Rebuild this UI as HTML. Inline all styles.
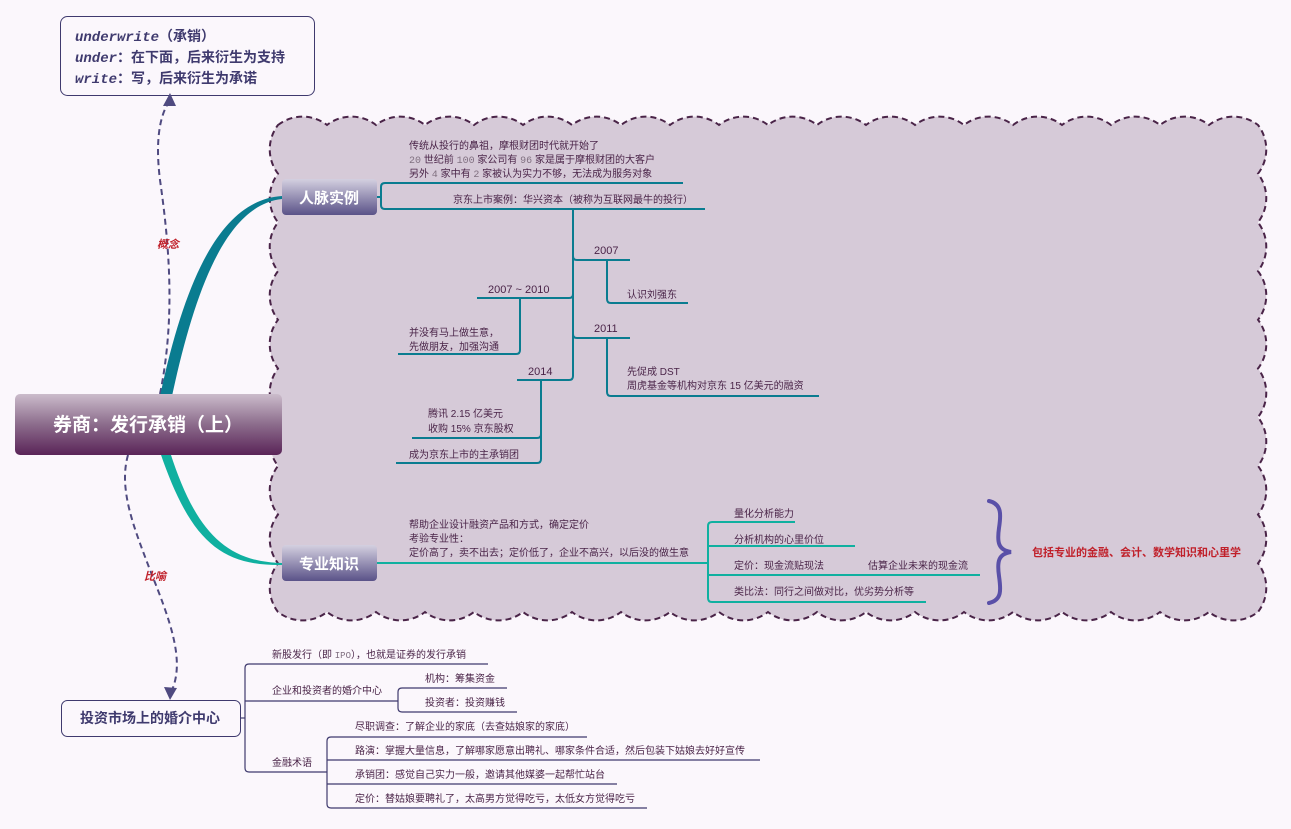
<!DOCTYPE html>
<html><head><meta charset="utf-8"><style>
html,body{margin:0;padding:0;background:#fbf7fc;}
svg text{font-family:"Liberation Sans","Noto Sans CJK SC",sans-serif;}
</style></head><body>
<svg width="1291" height="824" viewBox="0 0 1291 824" xmlns="http://www.w3.org/2000/svg">
<defs>
<linearGradient id="gr" x1="0" y1="0" x2="0" y2="1"><stop offset="0" stop-color="#cbbccb"/><stop offset="0.5" stop-color="#8c6c8c"/><stop offset="1" stop-color="#5a2458"/></linearGradient>
<linearGradient id="gs" x1="0" y1="0" x2="0" y2="1"><stop offset="0" stop-color="#d4d0e0"/><stop offset="1" stop-color="#5a5288"/></linearGradient>
</defs>
<rect width="1291" height="824" fill="#fbf7fc"/>
<!-- cloud -->
<path d="M278 125
a40 40 0 0 1 49 0 a40 40 0 0 1 49 0 a40 40 0 0 1 49 0 a40 40 0 0 1 49 0 a40 40 0 0 1 49 0 a40 40 0 0 1 49 0 a40 40 0 0 1 49 0 a40 40 0 0 1 49 0 a40 40 0 0 1 49 0 a40 40 0 0 1 49 0 a40 40 0 0 1 49 0 a40 40 0 0 1 49 0 a40 40 0 0 1 49 0 a40 40 0 0 1 49 0 a40 40 0 0 1 49 0 a40 40 0 0 1 49 0 a40 40 0 0 1 49 0 a40 40 0 0 1 49 0 a40 40 0 0 1 49 0 a40 40 0 0 1 49 0
a40 40 0 0 1 0 48.7 a40 40 0 0 1 0 48.7 a40 40 0 0 1 0 48.7 a40 40 0 0 1 0 48.7 a40 40 0 0 1 0 48.7 a40 40 0 0 1 0 48.7 a40 40 0 0 1 0 48.7 a40 40 0 0 1 0 48.7 a40 40 0 0 1 0 48.7 a40 40 0 0 1 0 48.7
a40 40 0 0 1 -49 0 a40 40 0 0 1 -49 0 a40 40 0 0 1 -49 0 a40 40 0 0 1 -49 0 a40 40 0 0 1 -49 0 a40 40 0 0 1 -49 0 a40 40 0 0 1 -49 0 a40 40 0 0 1 -49 0 a40 40 0 0 1 -49 0 a40 40 0 0 1 -49 0 a40 40 0 0 1 -49 0 a40 40 0 0 1 -49 0 a40 40 0 0 1 -49 0 a40 40 0 0 1 -49 0 a40 40 0 0 1 -49 0 a40 40 0 0 1 -49 0 a40 40 0 0 1 -49 0 a40 40 0 0 1 -49 0 a40 40 0 0 1 -49 0 a40 40 0 0 1 -49 0
a40 40 0 0 1 0 -48.7 a40 40 0 0 1 0 -48.7 a40 40 0 0 1 0 -48.7 a40 40 0 0 1 0 -48.7 a40 40 0 0 1 0 -48.7 a40 40 0 0 1 0 -48.7 a40 40 0 0 1 0 -48.7 a40 40 0 0 1 0 -48.7 a40 40 0 0 1 0 -48.7 a40 40 0 0 1 0 -48.7 Z"
fill="#d6cad8" stroke="#4a2448" stroke-width="2" stroke-dasharray="6,4"/>

<!-- top-left note -->
<rect x="60.5" y="16.5" width="254" height="79" rx="7" fill="#fbf7fc" stroke="#3f3a6e" stroke-width="1"/>
<g fill="#3f3a6e" font-size="14" font-weight="bold">
<text x="75" y="41"><tspan font-family="Liberation Mono" font-style="italic">underwrite</tspan>（承销）</text>
<text x="75" y="62"><tspan font-family="Liberation Mono" font-style="italic">under</tspan>：在下面，后来衍生为支持</text>
<text x="75" y="83"><tspan font-family="Liberation Mono" font-style="italic">write</tspan>：写，后来衍生为承诺</text>
</g>

<!-- dashed relationships -->
<path d="M160 394 C175 320 170 250 160 180 C155 140 160 115 169 102" fill="none" stroke="#4f4a80" stroke-width="2" stroke-dasharray="6,4"/>
<polygon points="170,93 163,106 176,106" fill="#4f4a80"/>
<text x="157" y="248" font-size="11" font-style="italic" font-weight="bold" fill="#c0202a">概念</text>
<path d="M128 455 C118 490 135 530 150 570 C170 620 185 660 172 690" fill="none" stroke="#4f4a80" stroke-width="2" stroke-dasharray="6,4"/>
<polygon points="170,700 164,687 177,688" fill="#4f4a80"/>
<text x="144" y="580" font-size="11" font-style="italic" font-weight="bold" fill="#c0202a">比喻</text>

<!-- main branches -->
<path d="M160 396 C185 280 220 200 282 196 L282 199 C226 205 195 290 172 396 Z" fill="#0a7c90"/>
<path d="M170 452 C195 530 225 562 282 563 L282 565 C220 566 190 540 160 452 Z" fill="#10b0a0"/>

<!-- root -->
<rect x="15" y="394" width="267" height="61" rx="5" fill="url(#gr)"/>
<text x="148" y="431" font-size="19" font-weight="bold" fill="#fff" text-anchor="middle">券商：发行承销（上）</text>

<!-- 人脉实例 -->
<rect x="282" y="179" width="95" height="36" rx="4" fill="url(#gs)"/>
<text x="329" y="203" font-size="15" font-weight="bold" fill="#fff" text-anchor="middle">人脉实例</text>
<g fill="none" stroke="#0a7c90" stroke-width="2">
<path d="M377 197 L381 197 M381 187 Q381 183 385 183 L683 183 M381 187 L381 205 Q381 209 385 209 L705 209"/>
<path d="M573 209 L573 376 Q573 380 569 380 L517 380"/>
<path d="M573 256 Q573 260 577 260 L630 260"/>
<path d="M607 260 L607 299 Q607 303 611 303 L688 303"/>
<path d="M573 294 Q573 298 569 298 L477 298"/>
<path d="M520 298 L520 350 Q520 354 516 354 L398 354"/>
<path d="M573 334 Q573 338 577 338 L630 338"/>
<path d="M607 338 L607 392 Q607 396 611 396 L819 396"/>
<path d="M541 380 L541 459 Q541 463 537 463 L396 463"/>
<path d="M541 434 Q541 438 537 438 L412 438"/>
</g>
<g fill="#4a2448" font-size="10">
<text x="409" y="149">传统从投行的鼻祖，摩根财团时代就开始了</text>
<text x="409" y="163"><tspan font-family="Liberation Mono" fill="#807080">20</tspan> 世纪前 <tspan font-family="Liberation Mono" fill="#807080">100</tspan> 家公司有 <tspan font-family="Liberation Mono" fill="#807080">96</tspan> 家是属于摩根财团的大客户</text>
<text x="409" y="177">另外 <tspan font-family="Liberation Mono" fill="#807080">4</tspan> 家中有 <tspan font-family="Liberation Mono" fill="#807080">2</tspan> 家被认为实力不够，无法成为服务对象</text>
<text x="453" y="203">京东上市案例：华兴资本（被称为互联网最牛的投行）</text>
<text x="594" y="254" font-size="11">2007</text>
<text x="627" y="298">认识刘强东</text>
<text x="488" y="293" font-size="11">2007 ~ 2010</text>
<text x="409" y="336">并没有马上做生意，</text>
<text x="409" y="350">先做朋友，加强沟通</text>
<text x="594" y="332" font-size="11">2011</text>
<text x="627" y="375">先促成 DST</text>
<text x="627" y="389">周虎基金等机构对京东 15 亿美元的融资</text>
<text x="528" y="375" font-size="11">2014</text>
<text x="428" y="417">腾讯 2.15 亿美元</text>
<text x="428" y="432">收购 15% 京东股权</text>
<text x="409" y="458">成为京东上市的主承销团</text>
</g>

<!-- 专业知识 -->
<rect x="282" y="545" width="95" height="36" rx="4" fill="url(#gs)"/>
<text x="329" y="569" font-size="15" font-weight="bold" fill="#fff" text-anchor="middle">专业知识</text>
<g fill="none" stroke="#10b0a0" stroke-width="2">
<path d="M377 563 L708 563"/>
<path d="M708 526 Q708 522 712 522 L795 522 M708 526 L708 598 Q708 602 712 602 L926 602"/>
<path d="M708 546 L855 546 M708 575 L980 575"/>
</g>
<g fill="#4a2448" font-size="10">
<text x="409" y="528">帮助企业设计融资产品和方式，确定定价</text>
<text x="409" y="542">考验专业性：</text>
<text x="409" y="556">定价高了，卖不出去；定价低了，企业不高兴，以后没的做生意</text>
<text x="734" y="517">量化分析能力</text>
<text x="734" y="543">分析机构的心里价位</text>
<text x="734" y="569">定价：现金流贴现法</text>
<text x="868" y="569">估算企业未来的现金流</text>
<text x="734" y="595">类比法：同行之间做对比，优劣势分析等</text>
</g>
<path d="M989 501 C1002 504 1001 515 999 528 C997 542 998 550 1011 552 C998 554 997 562 999 576 C1001 590 1002 600 989 603" fill="none" stroke="#5a50a8" stroke-width="4" stroke-linecap="round"/>
<text x="1032" y="556" font-size="11" font-weight="bold" fill="#c0202a">包括专业的金融、会计、数学知识和心里学</text>

<!-- bottom -->
<rect x="61.5" y="700.5" width="179" height="36" rx="6" fill="#fbf7fc" stroke="#3f3a6e"/>
<text x="150" y="723" font-size="14" font-weight="bold" fill="#3f3a6e" text-anchor="middle">投资市场上的婚介中心</text>
<g fill="none" stroke="#3f3a6e" stroke-width="1.2">
<path d="M240 718 L245 718"/>
<path d="M245 668 Q245 664 249 664 L488 664 M245 668 L245 768 Q245 772 249 772 L327 772 M245 701 L398 701"/>
<path d="M398 692 Q398 688 402 688 L507 688 M398 692 L398 708 Q398 712 402 712 L517 712"/>
<path d="M327 741 Q327 737 331 737 L587 737 M327 741 L327 804 Q327 808 331 808 L647 808 M327 760 L760 760 M327 784 L617 784"/>
</g>
<g fill="#4a2448" font-size="10">
<text x="272" y="658">新股发行（即 <tspan font-family="Liberation Mono" fill="#807080" font-size="9">IPO</tspan>），也就是证券的发行承销</text>
<text x="272" y="694">企业和投资者的婚介中心</text>
<text x="272" y="766">金融术语</text>
<text x="425" y="682">机构：筹集资金</text>
<text x="425" y="706">投资者：投资赚钱</text>
<text x="355" y="730">尽职调查：了解企业的家底（去查姑娘家的家底）</text>
<text x="355" y="754">路演：掌握大量信息，了解哪家愿意出聘礼、哪家条件合适，然后包装下姑娘去好好宣传</text>
<text x="355" y="778">承销团：感觉自己实力一般，邀请其他媒婆一起帮忙站台</text>
<text x="355" y="802">定价：替姑娘要聘礼了，太高男方觉得吃亏，太低女方觉得吃亏</text>
</g>
</svg>
</body></html>
